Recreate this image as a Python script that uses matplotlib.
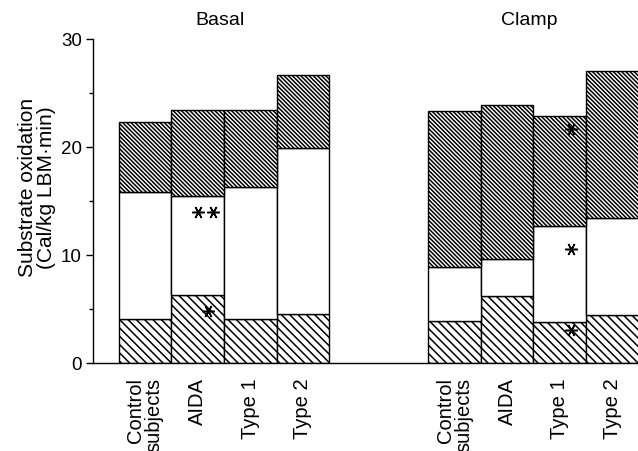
import matplotlib
matplotlib.use("Agg")
import matplotlib.pyplot as plt
import numpy as np

plt.rcParams['font.family'] = ['Liberation Sans', 'DejaVu Sans']
plt.rcParams['hatch.linewidth'] = 1.1
plt.rcParams['hatch.color'] = 'black'

# ---- data ----
groups = ["Basal", "Clamp"]
categories = ["Control\nsubjects", "AIDA", "Type 1", "Type 2"]
# cumulative boundaries of the three stacked segments (Cal/kg LBM·min)
basal_bottom = [4.1, 6.3, 4.1, 4.5]
basal_middle_top = [15.8, 15.5, 16.3, 19.9]
basal_total = [22.3, 23.4, 23.4, 26.7]
clamp_bottom = [3.9, 6.2, 3.8, 4.4]
clamp_middle_top = [8.9, 9.6, 12.7, 13.4]
clamp_total = [23.3, 23.9, 22.9, 27.0]
# significance marks: (group index, category index, y value, number of asterisks)
sig_marks = [(0, 1, 14.0, 2), (0, 1, 4.8, 1),
             (1, 2, 21.7, 1), (1, 2, 10.6, 1), (1, 2, 3.1, 1)]
y_ticks = [0, 10, 20, 30]

BS = chr(92)
sparse_hatch = BS * 4
dense_hatch = BS * 8

# ---- figure ----
fig = plt.figure(figsize=(6.38, 4.52), dpi=100)
ax = fig.add_axes([93/638, 1-364/452, 1-93/638, (364-40)/452])

group_gap = 5.88
width = 1.0
bottoms = [basal_bottom, clamp_bottom]
mids = [basal_middle_top, clamp_middle_top]
tots = [basal_total, clamp_total]

all_pos = []
all_labels = []
for g in range(len(groups)):
    pos = np.arange(len(categories)) + g * group_gap
    b = np.array(bottoms[g]); m = np.array(mids[g]); t = np.array(tots[g])
    ax.bar(pos, b, width=width, bottom=0, facecolor='white', edgecolor='black',
           linewidth=1.0, hatch=sparse_hatch)
    ax.bar(pos, m - b, width=width, bottom=b, facecolor='white', edgecolor='black',
           linewidth=1.0)
    ax.bar(pos, t - m, width=width, bottom=m, facecolor='white', edgecolor='black',
           linewidth=1.0, hatch=dense_hatch)
    all_pos.extend(pos)
    all_labels.extend(categories)
    ax.text(pos.mean() - 0.08, 31.4, groups[g], ha='center', va='baseline',
            fontsize=14, clip_on=False)

for g, c, y, n in sig_marks:
    x0 = c + g * group_gap
    if n == 2:
        xs = [x0 + 0.0, x0 + 0.29]
    else:
        xs = [x0 + (0.19 if g == 0 else 0.22)]
    ax.plot(xs, [y] * len(xs), linestyle='none', marker=(6, 2, 30),
            markersize=9, markeredgewidth=1.1, color='black', clip_on=False)

ax.set_xlim(-0.99, 9.37)
ax.set_ylim(0, 30)
ax.set_yticks(y_ticks)
ax.set_yticks([5, 15, 25], minor=True)
ax.tick_params(axis='y', which='major', length=5, width=1, labelsize=13.5, pad=3)
ax.tick_params(axis='y', which='minor', length=3, width=1)
ax.set_xticks(all_pos)
ax.set_xticklabels(all_labels, rotation=90, va='top', ha='center',
                   multialignment='right', fontsize=14.5, linespacing=0.95)
ax.tick_params(axis='x', length=0, pad=10)
for s in ['top', 'right']:
    ax.spines[s].set_visible(False)
ax.spines['left'].set_linewidth(1.0)
ax.spines['bottom'].set_linewidth(1.0)

ax.set_ylabel("Substrate oxidation\n(Cal/kg LBM\u00b7min)", fontsize=15,
              linespacing=1.0)
ax.yaxis.set_label_coords(-0.068, 0.545)

fig.savefig("out.png", dpi=100)
